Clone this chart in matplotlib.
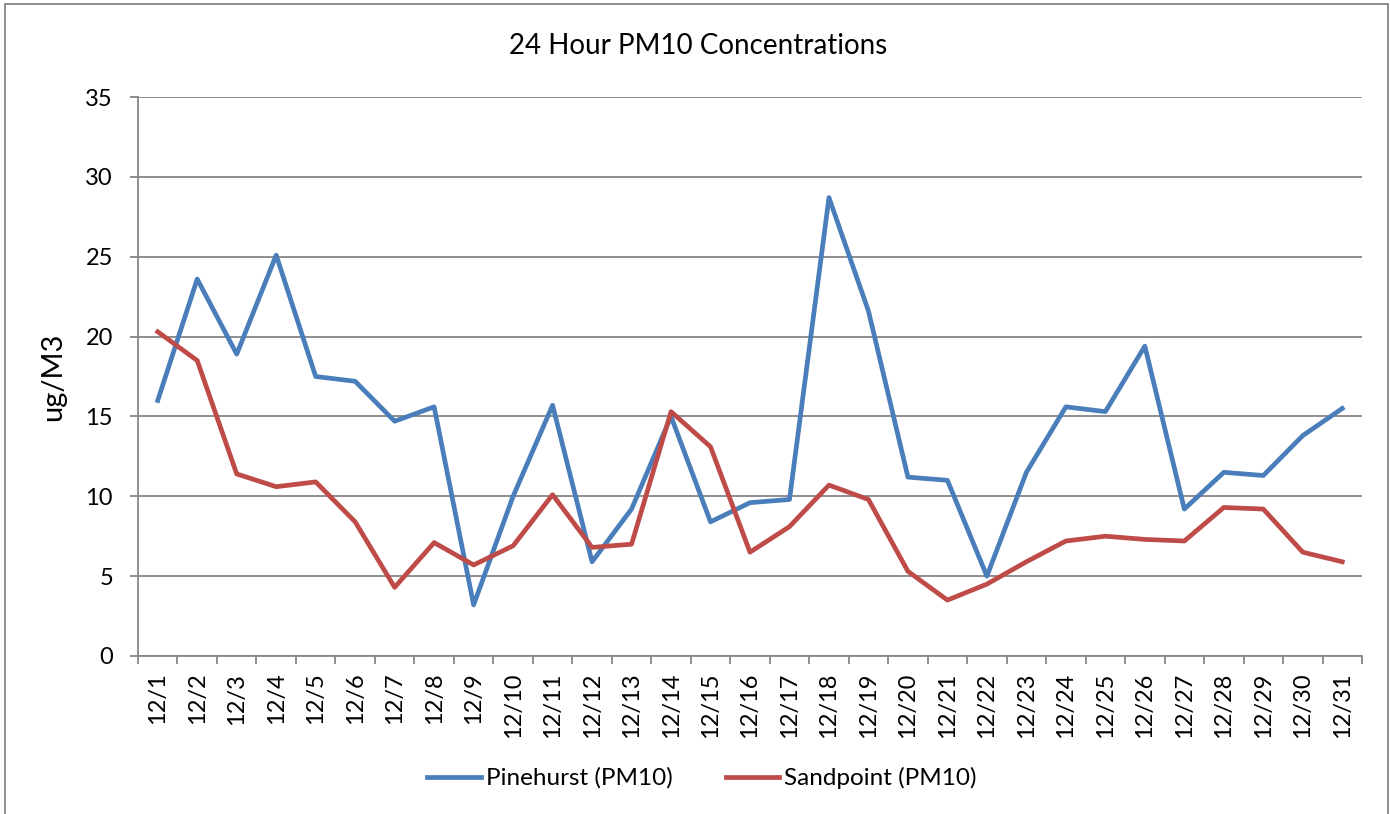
import matplotlib.pyplot as plt
from matplotlib.lines import Line2D
import numpy as np

plt.rcParams['font.family'] = ['Lato', 'DejaVu Sans']

days = ['12/%d' % d for d in range(1, 32)]
pinehurst = [16.0, 23.6, 18.9, 25.1, 17.5, 17.2, 14.7, 15.6, 3.2, 10.0,
             15.7, 5.9, 9.2, 15.0, 8.4, 9.6, 9.8, 28.7, 21.6, 11.2,
             11.0, 5.0, 11.5, 15.6, 15.3, 19.4, 9.2, 11.5, 11.3, 13.8, 15.5]
sandpoint = [20.3, 18.5, 11.4, 10.6, 10.9, 8.4, 4.3, 7.1, 5.7, 6.9,
             10.1, 6.8, 7.0, 15.3, 13.1, 6.5, 8.1, 10.7, 9.8, 5.3,
             3.5, 4.5, 5.9, 7.2, 7.5, 7.3, 7.2, 9.3, 9.2, 6.5, 5.9]

fig = plt.figure(figsize=(13.9, 8.14), dpi=100)
ax = fig.add_axes([138/1390, 1 - 656/814, (1362-138)/1390, (656-97)/814])

x = np.arange(len(days))
ax.plot(x, pinehurst, color='#4A7EBB', lw=3.4, label='Pinehurst (PM10)', solid_joinstyle='round')
ax.plot(x, sandpoint, color='#BE4B48', lw=3.4, label='Sandpoint (PM10)', solid_joinstyle='round')

ax.set_xlim(-0.5, len(days) - 0.5)
ax.set_ylim(0, 35)
ax.set_yticks(range(0, 36, 5))
ax.yaxis.grid(True, color='#868686', lw=1.3)
ax.set_axisbelow(True)

ax.set_xticks(x)
ax.set_xticklabels(days, rotation=90, fontsize=17)
ax.set_xticks(np.arange(-0.5, len(days), 1), minor=True)
ax.tick_params(axis='x', which='major', length=0, pad=12)
ax.tick_params(axis='x', which='minor', length=6, width=1.3, color='#868686')
ax.tick_params(axis='y', length=6, width=1.3, color='#868686', labelsize=17, pad=12)

for s in ['top', 'right']:
    ax.spines[s].set_visible(False)
for s in ['left', 'bottom']:
    ax.spines[s].set_color('#868686')
    ax.spines[s].set_linewidth(1.3)

ax.set_ylabel('ug/M3', fontsize=21, labelpad=14)
fig.text(698/1390, 1 - 46/814, '24 Hour PM10 Concentrations', ha='center', va='center', fontsize=20)

ax.legend(loc='center', bbox_to_anchor=(702/1390, 1 - 778/814), bbox_transform=fig.transFigure,
          ncol=2, frameon=False, fontsize=17.5, handlelength=2.2, columnspacing=2.2, handletextpad=0.2)

# chart border
fig.add_artist(Line2D([5/1390, 5/1390], [0, 1 - 4/814], color='#868686', lw=1.3))
fig.add_artist(Line2D([1388/1390, 1388/1390], [0, 1 - 4/814], color='#868686', lw=1.3))
fig.add_artist(Line2D([5/1390, 1388/1390], [1 - 4/814, 1 - 4/814], color='#868686', lw=1.3))

fig.savefig('out.png', dpi=100)
